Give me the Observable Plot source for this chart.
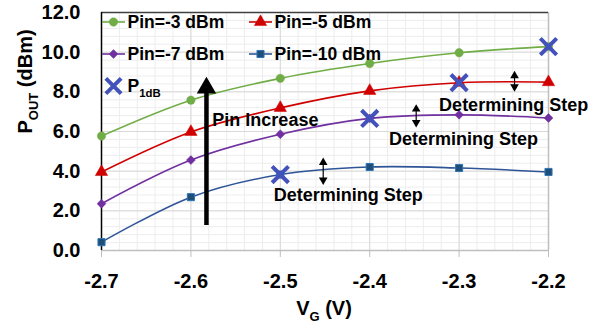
<!DOCTYPE html>
<html>
<head>
<meta charset="utf-8">
<script src="https://cdn.jsdelivr.net/npm/d3@7"></script>
<script src="https://cdn.jsdelivr.net/npm/@observablehq/plot@0.6"></script>
<style>
  html, body { margin: 0; padding: 0; background: #fff; }
  #chart { width: 609px; height: 329px; }
</style>
</head>
<body>
<div id="chart"></div>
<script>
// ---- data ----
const vg = [-2.7, -2.6, -2.5, -2.4, -2.3, -2.2];
const pinM3 = [5.77, 7.58, 8.68, 9.43, 9.97, 10.28];
const pinM5 = [3.96, 5.98, 7.19, 8.05, 8.46, 8.49];
const pinM7 = [2.36, 4.56, 5.86, 6.66, 6.84, 6.68];
const pinM10 = [0.42, 2.69, 3.83, 4.21, 4.16, 3.96];
const seriesNames = ["Pin=-3 dBm", "Pin=-5 dBm", "Pin=-7 dBm", "Pin=-10 dBm"];
const p1dbVg = [-2.2, -2.3, -2.4, -2.5];
const p1dbVal = [10.28, 8.46, 6.66, 3.83];
const yTickValues = [0, 2, 4, 6, 8, 10, 12];
// annotations
const stepX = [-2.452, -2.348, -2.238];
const stepLo = [3.45, 6.35, 8.15];
const stepHi = [4.54, 7.23, 8.91];
const stepLabelX = [-2.424, -2.295, -2.239];
const stepLabelY = [2.77, 5.6, 7.31];
const stepLabel = "Determining Step";
const bigArrowX = -2.5826, bigArrowLo = 1.26, bigArrowHi = 8.1;
const pinIncX = -2.576, pinIncY = 6.55, pinIncText = "Pin Increase";

// ---- styles ----
const colors = ["#70AD47", "#D00000", "#7030A0", "#2F5597"];
const fills = ["#70AD47", "#D00000", "#7030A0", "#1F4E79"];
const symbols = ["circle", "triangle", "diamond2", "square"];
const markR = [4.2, 4.6, 4.0, 4.0];
const xColor = "#4352BA";
const font = "'Liberation Sans', Arial, sans-serif";

const series = [pinM3, pinM5, pinM7, pinM10];
const rows = [];
series.forEach((vals, s) => vals.forEach((v, i) => rows.push({s, name: seriesNames[s], x: vg[i], y: v})));

const xMinor = d3.range(0, 26).map(i => +(-2.7 + i * 0.02).toFixed(3));
const yMinor = d3.range(0, 31).map(i => +(i * 0.4).toFixed(2));

const hline = {draw(ctx) { ctx.moveTo(-11.5, 0); ctx.lineTo(11.5, 0); }};

const marks = [
  Plot.ruleX(xMinor, {stroke: "#ededed", strokeWidth: 1}),
  Plot.ruleY(yMinor, {stroke: "#ededed", strokeWidth: 1}),
  Plot.ruleX(vg, {stroke: "#d9d9d9", strokeWidth: 1}),
  Plot.ruleY(yTickValues, {stroke: "#d9d9d9", strokeWidth: 1}),
  Plot.ruleY([0], {stroke: "#bfbfbf", strokeWidth: 1.5}),
  Plot.ruleX([-2.2], {stroke: "#bfbfbf", strokeWidth: 1.5}),
  Plot.ruleY([12], {stroke: "#404040", strokeWidth: 1.5}),
  Plot.axisX({ticks: vg, tickFormat: d => d.toFixed(1), tickSize: 7, tickPadding: 16, stroke: "#bfbfbf", fill: "black",
    fontSize: 20, fontWeight: "bold", label: null}),
  Plot.axisY({ticks: yTickValues, tickFormat: d => d.toFixed(1), tickSize: 0, tickPadding: 21, fill: "black",
    fontSize: 20, fontWeight: "bold", label: null}),
  Plot.ruleX([-2.7], {stroke: "black", strokeWidth: 1.5}),
];

series.forEach((vals, s) => {
  const d = rows.filter(r => r.s === s);
  marks.push(Plot.line(d, {x: "x", y: "y", stroke: colors[s], strokeWidth: 1.6, curve: "catmull-rom"}));
  marks.push(Plot.dot(d, {x: "x", y: "y", symbol: symbols[s], r: markR[s], fill: fills[s],
    stroke: s === 3 ? "#2E75B6" : fills[s], strokeWidth: s === 3 ? 1 : 0.5}));
});

// P1dB markers
marks.push(Plot.dot(p1dbVg.map((x, i) => ({x, y: p1dbVal[i]})), {x: "x", y: "y", symbol: "times", r: 7.5,
  stroke: xColor, strokeWidth: 4}));

// big arrow
marks.push(Plot.ruleX([bigArrowX], {y1: bigArrowLo, y2: bigArrowHi, stroke: "black", strokeWidth: 4.5}));
marks.push(Plot.dot([bigArrowX], {x: d => d, y: bigArrowHi, symbol: "triangle", r: 7.2, fill: "black", dy: -2}));
marks.push(Plot.text([pinIncText], {x: pinIncX, y: pinIncY, text: d => d, textAnchor: "start", fontSize: 18,
  fontWeight: "bold", fill: "black", fontFamily: font}));

// determining-step double arrows
stepX.forEach((x, i) => {
  marks.push(Plot.ruleX([x], {y1: stepLo[i] + 0.15, y2: stepHi[i] - 0.15, stroke: "black", strokeWidth: 1.2}));
  marks.push(Plot.dot([x], {x: d => d, y: stepHi[i], symbol: "triangle", r: 3.2, fill: "black", dy: 2}));
  marks.push(Plot.dot([x], {x: d => d, y: stepLo[i], symbol: "triangle", r: 3.2, fill: "black", rotate: 180, dy: -2}));
  marks.push(Plot.text([stepLabel], {x: stepLabelX[i], y: stepLabelY[i], text: d => d, fontSize: 18,
    fontWeight: "bold", fill: "black", fontFamily: font}));
});

// legend (in frame coordinates)
seriesNames.forEach((name, i) => {
  const col = i % 2, row = Math.floor(i / 2);
  const cx = col === 0 ? 12 : 159;
  const cy = row === 0 ? 9.5 : 41.5;
  marks.push(Plot.dot([name], {frameAnchor: "top-left", dx: cx, dy: cy, symbol: hline, stroke: colors[i], strokeWidth: 1.6, fill: "none"}));
  marks.push(Plot.dot([name], {frameAnchor: "top-left", dx: cx, dy: cy, symbol: symbols[i], r: markR[i], fill: fills[i],
    stroke: i === 3 ? "#2E75B6" : fills[i], strokeWidth: i === 3 ? 1 : 0.5}));
  marks.push(Plot.text([name], {frameAnchor: "top-left", dx: cx + 14, dy: cy, text: d => d, textAnchor: "start",
    lineAnchor: "middle", fontSize: 17.5, fontWeight: "bold", fill: "black", fontFamily: font}));
});
marks.push(Plot.dot(["P1dB"], {frameAnchor: "top-left", dx: 12, dy: 73.5, symbol: "times", r: 7, stroke: xColor, strokeWidth: 4}));
marks.push(Plot.text(["P|1dB|"], {frameAnchor: "top-left", dx: 26, dy: 73.5, text: d => d, textAnchor: "start",
  lineAnchor: "middle", fontSize: 17.5, fontWeight: "bold", fill: "black", fontFamily: font, className: "subtext"}));

// axis titles
marks.push(Plot.text(["P|OUT| (dBm)"], {frameAnchor: "left", dx: -76, dy: 2, rotate: -90, text: d => d,
  lineAnchor: "middle", fontSize: 20, fontWeight: "bold", fill: "black", fontFamily: font, className: "subtext"}));
marks.push(Plot.text(["V|G| (V)"], {frameAnchor: "bottom", dx: -1, dy: 58, text: d => d,
  lineAnchor: "middle", fontSize: 20, fontWeight: "bold", fill: "black", fontFamily: font, className: "subtext"}));

const chart = Plot.plot({
  width: 609, height: 329,
  marginLeft: 101, marginRight: 61, marginTop: 12, marginBottom: 79,
  x: {domain: [-2.7, -2.2]},
  y: {domain: [0, 12]},
  style: {fontFamily: font, background: "white", overflow: "visible"},
  marks
});

// subscripts
d3.select(chart).selectAll(".subtext text").each(function () {
  const parts = this.textContent.split("|");
  const el = d3.select(this);
  el.text(null);
  el.append("tspan").text(parts[0]);
  el.append("tspan").text(parts[1]).attr("font-size", "0.65em").attr("dy", "0.45em");
  if (parts[2]) el.append("tspan").text(parts[2]).attr("dy", "-0.29em");
});

document.getElementById("chart").appendChild(chart);
</script>
</body>
</html>
